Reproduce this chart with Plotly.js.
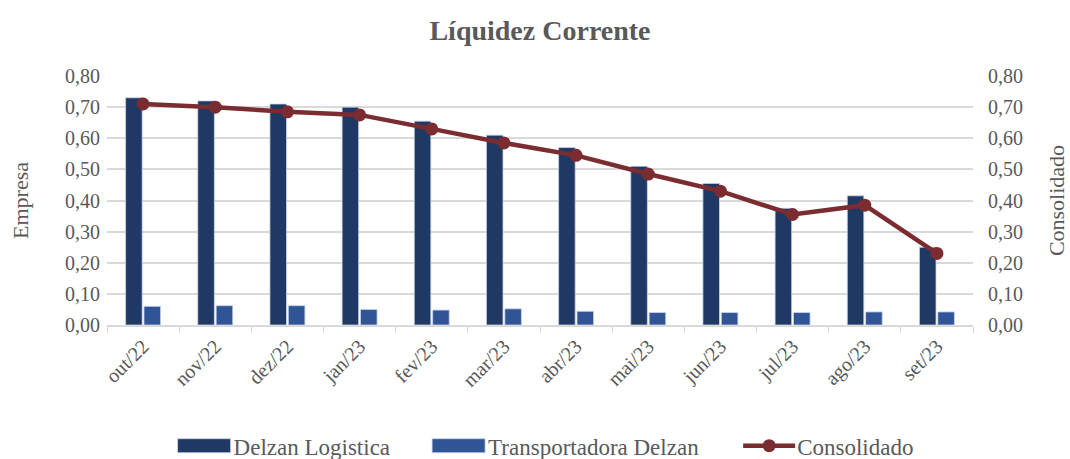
<!DOCTYPE html>
<html>
<head>
<meta charset="utf-8">
<script src="https://cdn.plot.ly/plotly-3.0.1.min.js"></script>
<style>html,body{margin:0;padding:0;background:#fff;}#chart{width:1070px;height:459px;}
.legendtext{font-family:"Liberation Serif", serif !important;}</style>
</head>
<body>
<div id="chart"></div>
<script>
var categories = ["out/22","nov/22","dez/22","jan/23","fev/23","mar/23","abr/23","mai/23","jun/23","jul/23","ago/23","set/23"];
var delzanLogistica = [0.73,0.72,0.71,0.70,0.655,0.61,0.57,0.51,0.455,0.375,0.415,0.25];
var transportadoraDelzan = [0.06,0.062,0.062,0.05,0.048,0.052,0.044,0.04,0.04,0.04,0.042,0.042];
var consolidado = [0.71,0.70,0.685,0.675,0.63,0.585,0.545,0.485,0.43,0.355,0.385,0.23];
var seriesNames = ["Delzan Logistica","Transportadora Delzan","Consolidado"];

var fontFam = "Liberation Serif";
var grey = "#595959";

var traces = [
  {type:"bar", name:seriesNames[0], x:categories, y:delzanLogistica,
   marker:{color:"#203864", line:{color:"#c9d3e6", width:0.8}}},
  {type:"bar", name:seriesNames[1], x:categories, y:transportadoraDelzan,
   marker:{color:"#2F5597", line:{color:"#c9d3e6", width:0.8}}},
  {type:"scatter", mode:"lines+markers", name:seriesNames[2], x:categories, y:consolidado,
   yaxis:"y2", line:{color:"#7B2C31", width:4.5}, marker:{color:"#7B2C31", size:13}}
];

var layout = {
  width:1070, height:459,
  margin:{l:107, r:97, t:76, b:134, autoexpand:false},
  paper_bgcolor:"#fff", plot_bgcolor:"#fff",
  separators:",.",
  font:{family:fontFam, color:grey, size:20},
  title:{text:"<b>Líquidez Corrente</b>", x:0.5, xanchor:"center", xref:"paper", y:0.935, yanchor:"middle",
         font:{family:fontFam, size:28, color:grey}},
  barmode:"group", bargap:0.49, bargroupgap:0.1,
  showlegend:true,
  legend:{orientation:"h", x:0.488, xanchor:"center", y:-0.485, yanchor:"middle",
          font:{family:fontFam, size:23, color:grey}, traceorder:"normal", itemwidth:83},
  xaxis:{automargin:false, range:[-0.5, 11.5], autorange:false, tickangle:-45, showgrid:false, showline:true,
         linecolor:"#d9d9d9", linewidth:1.5,
         ticks:"outside", tickson:"boundaries", ticklen:6, tickcolor:"#d9d9d9",
         tickfont:{family:fontFam, size:20, color:grey}},
  yaxis:{automargin:false, range:[0,0.8], dtick:0.1, tickformat:".2f", showgrid:true, gridcolor:"#d9d9d9", gridwidth:1.5,
         zeroline:false, showline:false, ticks:"", ticklabelstandoff:6,
         title:{text:"Empresa", font:{family:fontFam, size:22, color:grey}, standoff:30},
         tickfont:{family:fontFam, size:20, color:grey}},
  yaxis2:{automargin:false, range:[0,0.8], dtick:0.1, tickformat:".2f", overlaying:"y", side:"right", showgrid:false,
          zeroline:false, showline:false, ticks:"", ticklabelstandoff:14,
          title:{text:"Consolidado", font:{family:fontFam, size:22, color:grey}, standoff:26},
          tickfont:{family:fontFam, size:20, color:grey}}
};

function widenLegendSymbols(gd) {
  var items = gd.querySelectorAll('.legend .traces');
  items.forEach(function (item) {
    var text = item.querySelector('.legendtext');
    if (!text) return;
    var L = text.getBoundingClientRect().left;
    var line = item.querySelector('.legendlines path');
    if (line) {
      var bb = line.getBBox();
      var lr = line.getBoundingClientRect();
      var off = lr.left - bb.x;
      line.setAttribute('d', 'M' + (L - 54 - off) + ',0H' + (L - 2 - off));
      var pt = item.querySelector('.legendpoints path.scatterpts');
      if (pt) {
        var pr = pt.getBoundingClientRect();
        var dx = (L - 28) - (pr.left + pr.right) / 2;
        var tf = pt.getAttribute('transform') || 'translate(0,0)';
        var m = /translate\(\s*([-\d.eE]+)[ ,]+([-\d.eE]+)\s*\)/.exec(tf);
        var tx = m ? parseFloat(m[1]) : 0, ty = m ? parseFloat(m[2]) : 0;
        pt.setAttribute('transform', 'translate(' + (tx + dx) + ',' + ty + ')');
      }
      return;
    }
    var paths = item.querySelectorAll('.legendpoints path');
    paths.forEach(function (bar) {
      var r = bar.getBoundingClientRect();
      if (!r.width) return;
      var b = bar.getBBox();
      var offX = r.left - b.x;
      var lo = (L - 56) - offX, hi = (L - 3) - offX;
      bar.setAttribute('d', 'M' + hi + ',7H' + lo + 'V-7H' + hi + 'Z');
    });
  });
}

Plotly.newPlot("chart", traces, layout, {displayModeBar:false, responsive:false}).then(function (gd) {
  widenLegendSymbols(gd);
});
</script>
</body>
</html>
